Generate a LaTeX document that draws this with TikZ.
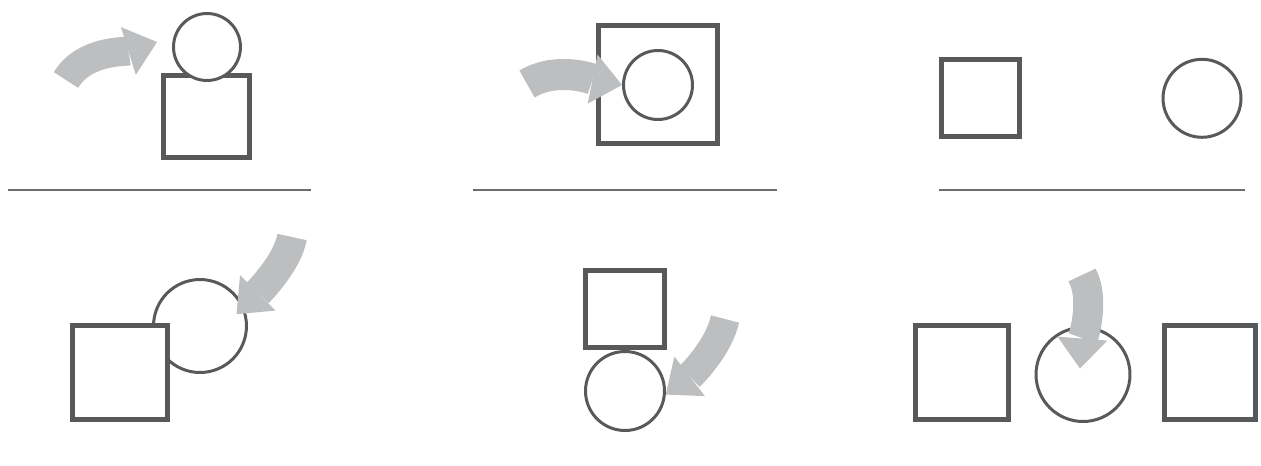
\documentclass[tikz,border=0pt]{standalone}
\usepackage{tikz}
\usetikzlibrary{calc,arrows.meta}
\definecolor{fig-dark}{HTML}{58595B}
\definecolor{fig-arrow}{HTML}{BCBEC0}
\definecolor{fig-rule}{HTML}{6D6E71}

\begin{document}
\begin{tikzpicture}[x=0.02cm, y=-0.02cm,
    sqbox/.style 2 args={draw=fig-dark, line width=2.6pt, fill=white, inner sep=0pt, minimum width=#1, minimum height=#2},
    ring/.style={circle, draw=fig-dark, line width=1.7pt, fill=white, inner sep=0pt, minimum size=#1},
    bigarrow/.style={draw=fig-arrow, line width=#1, -{Triangle[width=1cm 0 0, length=0.6cm 0 0, line width=0pt 0 0]}},
    sepline/.style={draw=fig-rule, line width=1.1pt}]
    \useasboundingbox (0,0) rectangle (1261,466);
    % Top row: circle on square, circle in square, apart
    \node[sqbox={1.73cm}{1.65cm}] (s1) at (206.5,116.5) {};
    \node[ring=1.34cm] (c1) at (207,47) {};
    \node[sqbox={2.39cm}{2.37cm}] (s2) at (658,84.5) {};
    \node[ring=1.38cm] (c2) at (658,85) {};
    \node[sqbox={1.57cm}{1.55cm}] (s3) at (980.5,98) {};
    \node[ring=1.56cm] (c3) at (1202,98.3) {};
    % Rules under the top row
    \draw[sepline] (8,190) -- (311,190);
    \draw[sepline] (473,190) -- (777,190);
    \draw[sepline] (939,190) -- (1245,190);
    % Bottom row: behind, below, between
    \node[ring=1.86cm] (c4) at (200,326) {};
    \node[sqbox={1.91cm}{1.89cm}] (s4) at (120,372.5) {};
    \node[sqbox={1.59cm}{1.55cm}] (s5) at (625,309) {};
    \node[ring=1.58cm] (c5) at (625,391) {};
    \node[sqbox={1.87cm}{1.87cm}] (s6a) at (962,372.5) {};
    \node[ring=1.88cm] (c6) at (1083,374.5) {};
    \node[sqbox={1.83cm}{1.87cm}] (s6b) at (1210,372.5) {};
    % Arrows pointing at the circle
    \coordinate (t1) at (66,80);
    \coordinate (t2) at (527,84);
    \coordinate (t4) at (292,237);
    \coordinate (t5) at (725,319);
    \coordinate (t6) at (1082,275);
    \draw[bigarrow=0.58cm] (t1) .. controls +(18,-30) and +(-32,10) .. ($(c1.west)+(-15,-5)$);
    \draw[bigarrow=0.62cm] (t2) .. controls +(30,-18) and +(-30,-6) .. (c2.west);
    \draw[bigarrow=0.6cm] (t4) .. controls +(-4,25) and +(22,-22) .. ($(c4.center)!0.8!(c4.18)$);
    \draw[bigarrow=0.58cm] (t5) .. controls +(-6,28) and +(26,-20) .. (c5.-5);
    \draw[bigarrow=0.6cm] (t6) .. controls +(14,25) and +(2,-25) .. ($(c6.center)+(-3,-6)$);
\end{tikzpicture}
\end{document}
